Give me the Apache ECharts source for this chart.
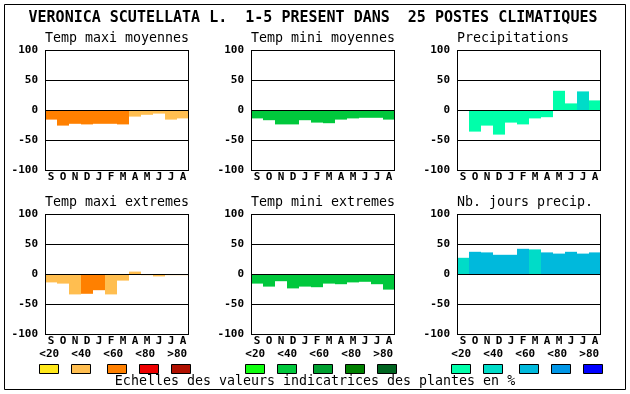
<!DOCTYPE html>
<html>
<head>
<meta charset="utf-8">
<script src="https://cdn.jsdelivr.net/npm/echarts@6/dist/echarts.min.js"></script>
<style>
html,body{margin:0;padding:0;background:#fff;}
#c{width:630px;height:394px;}
</style>
</head>
<body>
<div id="c"></div>
<script>
// ---- data ----
const months = ['S','O','N','D','J','F','M','A','M','J','J','A'];
const scaleLabels = ['<20','<40','<60','<80','>80'];
const yMin = -100, yMax = 100, yStep = 50;
const chartTitle = 'VERONICA SCUTELLATA L.  1-5 PRESENT DANS  25 POSTES CLIMATIQUES';
const caption = 'Echelles des valeurs indicatrices des plantes en %';
const panelTitles = ['Temp maxi moyennes','Temp mini moyennes','Precipitations',
                     'Temp maxi extremes','Temp mini extremes','Nb. jours precip.'];

const redScale   = ['#FFE81A','#FFBE50','#FF8000','#EE0000','#B01000'];
const greenScale = ['#10FF10','#00C83C','#00A030','#008000','#006420'];
const blueScale  = ['#00FFAA','#00DCC8','#00B9DC','#0096E6','#0000FF'];

const tmaxMoy      = [-16,-26,-23,-24,-23,-23,-24,-11,-8,-6,-16,-14];
const tmaxMoyClass = [2,2,2,2,2,2,2,1,1,1,1,1];
const tminMoy      = [-14,-17,-24,-24,-17,-21,-22,-16,-14,-13,-13,-16];
const tminMoyClass = [1,1,1,1,1,1,1,1,1,1,1,1];
const precip       = [0,-36,-26,-41,-21,-24,-14,-12,32,11,31,16];
const precipClass  = [0,0,0,0,0,0,0,0,0,0,1,0];
const tmaxExt      = [-14,-16,-34,-33,-27,-34,-11,4,-2,-4,-2,-2];
const tmaxExtClass = [1,1,1,2,2,1,1,1,1,1,1,1];
const tminExt      = [-16,-21,-12,-24,-21,-22,-16,-17,-14,-13,-17,-26];
const tminExtClass = [1,1,1,1,1,1,1,1,1,1,1,1];
const nbJours      = [27,37,36,32,32,42,41,36,34,37,34,36];
const nbJoursClass = [1,2,2,2,2,2,1,2,2,2,2,2];

// ---- layout ----
const colLeft = [45, 251, 457];
const rowTop = [50, 214];
const plotW = 144, plotH = 120;
const mono = '"DejaVu Sans Mono", monospace';

const panels = [
  {vals: tmaxMoy, cls: tmaxMoyClass, pal: redScale},
  {vals: tminMoy, cls: tminMoyClass, pal: greenScale},
  {vals: precip,  cls: precipClass,  pal: blueScale},
  {vals: tmaxExt, cls: tmaxExtClass, pal: redScale},
  {vals: tminExt, cls: tminExtClass, pal: greenScale},
  {vals: nbJours, cls: nbJoursClass, pal: blueScale}
];

const grids = [], xAxes = [], yAxes = [], series = [], graphics = [];

graphics.push({type:'rect', shape:{x:4.5, y:4.5, width:621, height:385},
  style:{fill:'none', stroke:'#000', lineWidth:1}, z:10});
graphics.push({type:'text', x:313, y:18, style:{text:chartTitle, font:'bold 15px ' + mono,
  fill:'#000', align:'center', verticalAlign:'middle'}});
graphics.push({type:'text', x:315, y:382, style:{text:caption, font:'13.3px ' + mono,
  fill:'#000', align:'center', verticalAlign:'middle'}});

panels.forEach((p, i) => {
  const col = i % 3, row = Math.floor(i / 3);
  const left = colLeft[col], top = rowTop[row];
  grids.push({left: left, top: top, width: plotW, height: plotH, containLabel: false});
  xAxes.push({type:'category', gridIndex:i, data: months, position:'bottom',
    axisLine:{show:false}, axisTick:{show:false},
    axisLabel:{margin:2, color:'#000', fontFamily: mono, fontWeight:'bold', fontSize:11, lineHeight:11}});
  yAxes.push({type:'value', gridIndex:i, min:yMin, max:yMax, interval:yStep,
    axisLine:{show:false}, axisTick:{show:false},
    splitLine:{show:true, lineStyle:{color:'#000', width:1}},
    axisLabel:{margin:7, color:'#000', fontFamily: mono, fontWeight:'bold', fontSize:11}});
  series.push({type:'bar', xAxisIndex:i, yAxisIndex:i, barCategoryGap:'0%', barGap:'0%',
    data: p.vals.map((v, k) => ({value: v, itemStyle:{color: p.pal[p.cls[k]]}})),
    animation:false, silent:true,
    markLine:{silent:true, symbol:'none', label:{show:false}, animation:false,
      lineStyle:{color:'#000', width:1, type:'solid'}, data:[{yAxis:0}]}});
  graphics.push({type:'rect', shape:{x:left+0.5, y:top+0.5, width:plotW-1, height:plotH},
    style:{fill:'none', stroke:'#000', lineWidth:1}, z:10});
  graphics.push({type:'text', x:left, y:top-11, style:{text:panelTitles[i], font:'13.3px ' + mono,
    fill:'#000', align:'left', verticalAlign:'middle'}});
});

// legend scales under each column
const pals = [redScale, greenScale, blueScale];
const boxOffsets = [-5.7, 26.3, 62.3, 94.3, 126.3];
const labelOffsets = [4.3, 36.3, 68.3, 100.3, 132.3];
colLeft.forEach((left, c) => {
  scaleLabels.forEach((lab, k) => {
    graphics.push({type:'text', x:left + labelOffsets[k], y:354, style:{text:lab,
      font:'bold 11px ' + mono, fill:'#000', align:'center', verticalAlign:'middle'}});
    graphics.push({type:'rect', shape:{x:Math.round(left + boxOffsets[k]) + 0.5, y:364.5, width:19, height:9},
      style:{fill:pals[c][k], stroke:'#000', lineWidth:1}});
  });
});

const chart = echarts.init(document.getElementById('c'), null, {renderer:'canvas'});
chart.setOption({
  backgroundColor:'#fff',
  animation:false,
  grid: grids, xAxis: xAxes, yAxis: yAxes, series: series,
  graphic: graphics
});
</script>
</body>
</html>
